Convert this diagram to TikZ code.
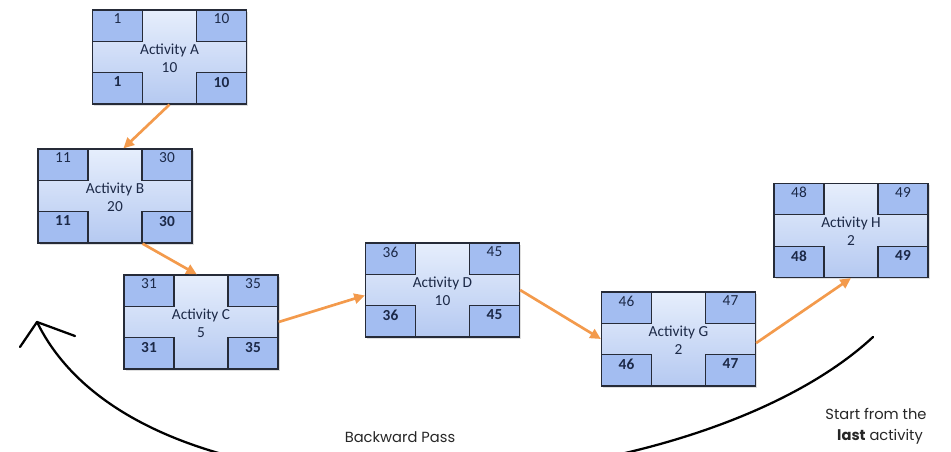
\documentclass[tikz,border=0pt]{standalone}
\usepackage{fontspec}
\setmainfont{Carlito}
\newfontfamily\handfont{Poppins}
\usetikzlibrary{arrows.meta,shadows}

\definecolor{ink}{HTML}{1C2947}
\definecolor{edge}{HTML}{262B38}
\definecolor{cellfill}{HTML}{A3BDF1}
\definecolor{boxtop}{HTML}{E6EEFC}
\definecolor{boxbottom}{HTML}{B5C9F1}
\definecolor{flow}{HTML}{F39A4C}

\tikzset{
  actbox/.style={draw=edge, line width=0.9pt, top color=boxtop, bottom color=boxbottom,
    minimum width=115.5pt, minimum height=70.5pt, inner sep=0pt,
    drop shadow={shadow xshift=1.2pt, shadow yshift=-1.2pt, opacity=0.25}},
  cell/.style={draw=edge, line width=0.9pt, fill=cellfill,
    minimum width=37.5pt, minimum height=23.5pt, inner sep=0pt},
  celltext/.style={text=ink, font=\fontsize{11.5}{13}\selectfont, anchor=north, inner sep=0pt},
  acttext/.style={text=ink, font=\fontsize{11.5}{13}\selectfont, inner sep=0pt},
  flowarrow/.style={draw=flow, line width=2pt, -{Triangle[length=8pt,width=7.5pt]}},
  passline/.style={draw=black, line width=1.7pt, line cap=round, line join=round},
  handtext/.style={font=\handfont\fontsize{11}{13}\selectfont, text=black!85, inner sep=0pt}
}

% #1 name, #2 centre, #3 title, #4 duration, #5 ES, #6 EF, #7 LS, #8 LF
\newcommand\activitybox[8]{%
  \node[actbox] (#1) at (#2) {};
  \node[cell, anchor=north west] (#1-es) at (#1.north west) {};
  \node[cell, anchor=north east] (#1-ef) at (#1.north east) {};
  \node[cell, anchor=south west] (#1-ls) at (#1.south west) {};
  \node[cell, anchor=south east] (#1-lf) at (#1.south east) {};
  \node[celltext] at ([yshift=-3pt]#1-es.north) {#5};
  \node[celltext] at ([yshift=-3pt]#1-ef.north) {#6};
  \node[celltext] at ([yshift=-3.5pt]#1-ls.north) {\bfseries #7};
  \node[celltext] at ([yshift=-3.5pt]#1-lf.north) {\bfseries #8};
  \node[acttext] (#1-title) at ([yshift=-30.5pt]#1.north) {#3};
  \node[acttext] (#1-dur) at ([yshift=-43.5pt]#1.north) {#4};
}

\begin{document}
\begin{tikzpicture}[x=0.75pt, y=-0.75pt]
  \useasboundingbox (0,0) rectangle (951,451);

  \activitybox{A}{169.5,57}{Activity A}{10}{1}{10}{1}{10}
  \activitybox{B}{115,196}{Activity B}{20}{11}{30}{11}{30}
  \activitybox{C}{201,322}{Activity C}{5}{31}{35}{31}{35}
  \activitybox{D}{442.5,290}{Activity D}{10}{36}{45}{36}{45}
  \activitybox{G}{678.5,339}{Activity G}{2}{46}{47}{46}{47}
  \activitybox{H}{851,230.5}{Activity H}{2}{48}{49}{48}{49}

  % forward flow between activities
  \draw[flowarrow] (A.south) -- (B.80);
  \draw[flowarrow] (B.-60) -- (C.95);
  \draw[flowarrow] (C.east) -- (D.184);
  \draw[flowarrow] (D.east) -- (G.west);
  \draw[flowarrow] (G.-3) -- (H.south);

  % backward pass sweep
  \coordinate (passstart) at (873,337);
  \coordinate (passtip) at (37,322);
  \coordinate (barbleft) at (20,347);
  \coordinate (barbright) at (75,336);
  \draw[passline] (passstart) .. controls (690,507) and (147,547) .. (passtip);
  \draw[passline] (barbleft) -- (passtip) -- (barbright);

  \node[handtext] (passlabel) at (400,437) {Backward Pass};
  \node[handtext] (startlabel) at (876,414) {Start from the};
  \node[handtext] (lastlabel) at (880,437) {\bfseries last\mdseries{} activity};
\end{tikzpicture}
\end{document}
